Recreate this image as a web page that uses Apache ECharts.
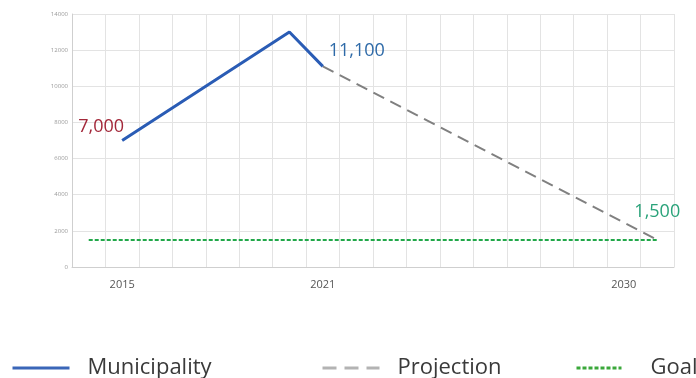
<!DOCTYPE html>
<html><head><meta charset="utf-8">
<script src="https://cdn.jsdelivr.net/npm/echarts@6/dist/echarts.min.js"></script>
<style>html,body{margin:0;padding:0;background:#fff}#c{width:696px;height:378px}</style>
</head><body><div id="c"></div>
<script>
const years = ['2014','2015','2016','2017','2018','2019','2020','2021','2022','2023','2024','2025','2026','2027','2028','2029','2030','2031'];
const shownYears = ['2015','2021','2030'];
const municipality = [null, 7000, null, null, null, null, 13000, 11100, null, null, null, null, null, null, null, null, null, null];
const projection = [null, null, null, null, null, null, null, 11100, null, null, null, null, null, null, null, null, null, 1500];
const goal = [1500, null, null, null, null, null, null, null, null, null, null, null, null, null, null, null, null, 1500];
const yTicks = [0, 2000, 4000, 6000, 8000, 10000, 12000, 14000];

const fmt = v => v.toLocaleString('en-US');
const labelled = (v, color, offset) => ({
  value: v,
  label: {show: true, position: 'top', offset: offset, color: color, fontSize: 18, fontFamily: 'Open Sans', formatter: p => fmt(p.value)}
});
const chart = echarts.init(document.getElementById('c'));
const legendText = (pad) => ({fontFamily: 'Open Sans', fontSize: 22, color: '#3a3a3a', padding: [0, 0, 0, pad]});
const legendBase = {top: 357, padding: 0, itemHeight: 12, itemStyle: {opacity: 0}};
chart.setOption({
  animation: false,
  grid: {left: 72, top: 14, right: 22, bottom: 111},
  legend: [
    Object.assign({data: ['Municipality'], left: 11, itemWidth: 57, textStyle: legendText(13), lineStyle: {color: '#3a66b8', width: 3}}, legendBase),
    Object.assign({data: ['Projection'], left: 321, itemWidth: 57, textStyle: legendText(13), lineStyle: {color: '#b3b3b3', width: 3, type: [14, 8]}}, legendBase),
    Object.assign({data: ['Goal'], left: 575, itemWidth: 45, textStyle: legendText(24), lineStyle: {color: '#3aa83a', width: 3, type: [4, 2]}}, legendBase)
  ],
  xAxis: {
    type: 'category', data: years, boundaryGap: true,
    axisLine: {lineStyle: {color: '#cfcfcf'}},
    axisTick: {show: false},
    axisLabel: {interval: 0, formatter: v => shownYears.includes(v) ? v : '', fontFamily: 'Open Sans', fontSize: 11, color: '#555', margin: 12},
    splitLine: {show: true, interval: 0, lineStyle: {color: '#e3e3e3'}}
  },
  yAxis: {
    type: 'value', min: yTicks[0], max: yTicks[yTicks.length-1], interval: 2000,
    axisLine: {show: true, lineStyle: {color: '#cfcfcf'}},
    axisTick: {show: false},
    axisLabel: {fontFamily: 'Open Sans', fontSize: 6, color: '#999', margin: 4, formatter: v => String(v)},
    splitLine: {lineStyle: {color: '#e3e3e3'}}
  },
  series: [
    {name: 'Municipality', type: 'line', data: municipality.map((v, i) => {
        if (v === null) return null;
        if (years[i] === '2015') return labelled(v, '#a3283a', [-21, 0]);
        if (years[i] === '2021') return labelled(v, '#2e6aa8', [34, -2]);
        return v;
      }),
      connectNulls: true, symbol: 'circle', symbolSize: 0, showSymbol: true, z: 5,
      lineStyle: {color: '#2a5cb5', width: 3}, itemStyle: {color: '#2a5cb5'}},
    {name: 'Projection', type: 'line', data: projection, connectNulls: true, symbol: 'none', z: 4,
      lineStyle: {color: '#808080', width: 2, type: [12, 7]}, itemStyle: {color: '#aaa'}},
    {name: 'Goal', type: 'line', data: goal.map((v, i) => {
        if (v === null) return null;
        if (years[i] === '2031') return labelled(v, '#2aa37a', [0, -14]);
        return v;
      }),
      connectNulls: true, symbol: 'circle', symbolSize: 0, showSymbol: true, z: 3,
      lineStyle: {color: '#22a84a', width: 2, type: [4, 2]}, itemStyle: {color: '#3aa83a'}}
  ]
});
</script></body></html>
